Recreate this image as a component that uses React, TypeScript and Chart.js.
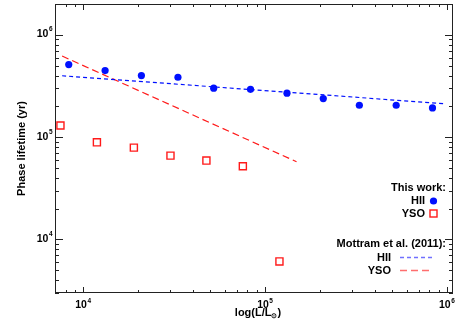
import React, { useEffect, useRef } from 'react';
import { Chart, registerables } from 'chart.js';
Chart.register(...registerables);

// This work: HII regions
const hiiL = [8330, 13200, 20900, 33200, 52200, 83200, 132000, 209000, 330000, 526000, 833000];
const hiiLife = [512000, 447000, 400000, 385000, 301000, 293000, 269000, 238000, 205000, 205000, 193000];
// This work: YSOs
const ysoL = [7500, 11900, 19000, 30200, 47600, 75500, 120000];
const ysoLife = [130000, 89000, 79000, 66000, 59000, 52000, 6100];
// Mottram et al. (2011) relations
const mottramHiiL = [7660, 970000];
const mottramHiiLife = [398000, 212000];
const mottramYsoL = [7660, 149000];
const mottramYsoLife = [620000, 57500];

const xMin = 7000;
const xMax = 1.08e6;
const yMin = 3000;
const yMax = 2e6;
const xTickValues = [1e4, 1e5, 1e6];
const xTickExponents = ['4', '5', '6'];
const yTickValues = [1e4, 1e5, 1e6];
const yTickExponents = ['4', '5', '6'];
const decades = [3, 4, 5, 6];
const minorMantissas = [1, 2, 3, 4, 5, 6, 7, 8, 9];

const xTitleMain = 'log(L/L';
const xTitleSub = '⊙';
const xTitleEnd = ')';
const yTitle = 'Phase lifetime (yr)';
const legendGroups = ['This work:', 'Mottram et al. (2011):'];
const legendItems = ['HII', 'YSO'];

const BLUE = '#0010ff';
const RED = '#ff1a1a';
const FONT = '"Liberation Sans", Arial, Helvetica, sans-serif';

const pts = (xs: number[], ys: number[]) => xs.map((x, i) => ({ x, y: ys[i] }));

const decor = {
  id: 'decor',
  afterDraw(chart: any) {
    const ctx = chart.ctx as CanvasRenderingContext2D;
    const ca = chart.chartArea;
    const xs = chart.scales.x;
    const ys = chart.scales.y;
    ctx.save();
    ctx.strokeStyle = '#222';
    ctx.lineWidth = 1;
    ctx.strokeRect(ca.left + 0.5, ca.top + 0.5, ca.right - ca.left - 1, ca.bottom - ca.top - 1);

    // tick marks (inward, all four sides)
    ctx.beginPath();
    for (const e of decades) {
      for (const m of minorMantissas) {
        const v = m * Math.pow(10, e);
        if (v >= xMin && v <= xMax) {
          const px = Math.round(xs.getPixelForValue(v)) + 0.5;
          const len = m === 1 ? 6 : 3;
          ctx.moveTo(px, ca.bottom);
          ctx.lineTo(px, ca.bottom - len);
          ctx.moveTo(px, ca.top);
          ctx.lineTo(px, ca.top + len);
        }
        if (v >= yMin && v <= yMax) {
          const py = Math.round(ys.getPixelForValue(v)) + 0.5;
          const len = m === 1 ? 8 : 4;
          ctx.moveTo(ca.left, py);
          ctx.lineTo(ca.left + len, py);
          ctx.moveTo(ca.right, py);
          ctx.lineTo(ca.right - len, py);
        }
      }
    }
    ctx.stroke();

    // tick labels
    ctx.fillStyle = '#000';
    ctx.textBaseline = 'alphabetic';
    const big = `bold 10.5px ${FONT}`;
    const small = `bold 6.5px ${FONT}`;
    xTickValues.forEach((v, i) => {
      const px = xs.getPixelForValue(v);
      ctx.font = big;
      const w1 = ctx.measureText('10').width;
      ctx.font = small;
      const w2 = ctx.measureText(xTickExponents[i]).width;
      const x0 = px - (w1 + w2 + 0.5) / 2;
      ctx.font = big;
      ctx.textAlign = 'left';
      ctx.fillText('10', x0, 307.5);
      ctx.font = small;
      ctx.fillText(xTickExponents[i], x0 + w1 + 0.5, 302.5);
    });
    yTickValues.forEach((v, i) => {
      const py = ys.getPixelForValue(v);
      ctx.font = small;
      const w2 = ctx.measureText(yTickExponents[i]).width;
      ctx.textAlign = 'right';
      ctx.fillText(yTickExponents[i], 52.5, py - 3.5);
      ctx.font = big;
      ctx.fillText('10', 52.5 - w2 - 0.5, py + 2.5);
    });

    // axis titles
    const tf = `bold 11px ${FONT}`;
    ctx.font = tf;
    const wa = ctx.measureText(xTitleMain).width;
    const wc = ctx.measureText(xTitleEnd).width;
    ctx.font = `bold 7px ${FONT}`;
    const wb = ctx.measureText(xTitleSub).width;
    const cx = (ca.left + ca.right) / 2 + 4;
    let x0 = cx - (wa + wb + wc) / 2;
    ctx.textAlign = 'left';
    ctx.font = tf;
    ctx.fillText(xTitleMain, x0, 316);
    ctx.font = `bold 7px ${FONT}`;
    ctx.fillText(xTitleSub, x0 + wa, 318);
    ctx.font = tf;
    ctx.fillText(xTitleEnd, x0 + wa + wb, 316);

    ctx.save();
    ctx.translate(22, (ca.top + ca.bottom) / 2);
    ctx.rotate(-Math.PI / 2);
    ctx.textAlign = 'center';
    ctx.textBaseline = 'middle';
    ctx.font = tf;
    ctx.fillText(yTitle, 0, 0);
    ctx.restore();

    // legend
    ctx.font = tf;
    ctx.textAlign = 'right';
    ctx.textBaseline = 'middle';
    ctx.fillText(legendGroups[0], 446, 187.5);
    ctx.fillText(legendItems[0], 425, 201);
    ctx.fillText(legendItems[1], 425, 213.5);
    ctx.fillText(legendGroups[1], 446, 244);
    ctx.fillText(legendItems[0], 391, 257.5);
    ctx.fillText(legendItems[1], 391, 270.5);

    ctx.fillStyle = BLUE;
    ctx.beginPath();
    ctx.arc(433.5, 201, 3.6, 0, Math.PI * 2);
    ctx.fill();
    ctx.strokeStyle = RED;
    ctx.lineWidth = 1.4;
    ctx.strokeRect(430, 210, 7, 7);

    ctx.lineWidth = 1.5;
    ctx.strokeStyle = '#7070ff';
    ctx.setLineDash([4, 3]);
    ctx.beginPath();
    ctx.moveTo(400, 257.5);
    ctx.lineTo(434, 257.5);
    ctx.stroke();
    ctx.strokeStyle = '#ff6e6e';
    ctx.setLineDash([7, 4]);
    ctx.beginPath();
    ctx.moveTo(400, 270.5);
    ctx.lineTo(431, 270.5);
    ctx.stroke();
    ctx.restore();
  },
};

export default function App() {
  const ref = useRef<HTMLCanvasElement>(null);
  useEffect(() => {
    if (!ref.current) return;
    const chart = new Chart(ref.current, {
      type: 'scatter',
      data: {
        datasets: [
          {
            label: 'Mottram HII',
            data: pts(mottramHiiL, mottramHiiLife),
            showLine: true,
            borderColor: BLUE,
            borderWidth: 1.2,
            borderDash: [4, 3],
            pointRadius: 0,
            fill: false,
          },
          {
            label: 'Mottram YSO',
            data: pts(mottramYsoL, mottramYsoLife),
            showLine: true,
            borderColor: RED,
            borderWidth: 1.2,
            borderDash: [7, 4],
            pointRadius: 0,
            fill: false,
          },
          {
            label: 'HII',
            data: pts(hiiL, hiiLife),
            pointStyle: 'circle',
            pointRadius: 3.6,
            backgroundColor: BLUE,
            borderColor: BLUE,
            borderWidth: 0,
          },
          {
            label: 'YSO',
            data: pts(ysoL, ysoLife),
            pointStyle: 'rect',
            pointRadius: 5,
            backgroundColor: 'rgba(255,255,255,0)',
            borderColor: RED,
            borderWidth: 1.4,
          },
        ],
      },
      options: {
        animation: false,
        responsive: false,
        events: [],
        layout: { padding: { top: 4, right: 10, left: 0, bottom: 0 }, autoPadding: false },
        plugins: { legend: { display: false }, tooltip: { enabled: false }, title: { display: false } },
        scales: {
          x: {
            type: 'logarithmic',
            min: xMin,
            max: xMax,
            grid: { display: false },
            border: { display: false },
            ticks: { display: false },
            afterFit: (s: any) => { s.height = 41; },
          },
          y: {
            type: 'logarithmic',
            min: yMin,
            max: yMax,
            grid: { display: false },
            border: { display: false },
            ticks: { display: false },
            afterFit: (s: any) => { s.width = 55; },
          },
        },
      } as any,
      plugins: [decor],
    });
    return () => chart.destroy();
  }, []);
  return (
    <div style={{ position: 'absolute', left: 0, top: 0, width: 463, height: 334, background: '#fff' }}>
      <canvas ref={ref} width={463} height={334} style={{ display: 'block' }} />
    </div>
  );
}
